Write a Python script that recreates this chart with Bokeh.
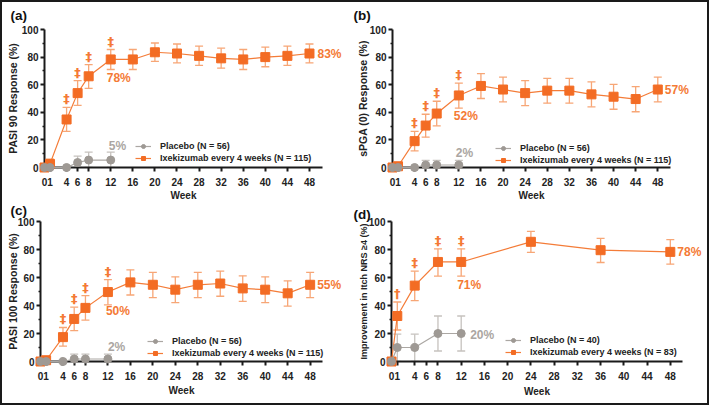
import math
from bokeh.plotting import figure
from bokeh.layouts import row, column
from bokeh.models import (ColumnDataSource, Whisker, TeeHead, FixedTicker, Legend,
                          LegendItem, Range1d)
from bokeh.embed import file_html
from bokeh.resources import INLINE

# ---------------- data ----------------
week_ticks = [0, 1, 4, 6, 8, 12, 16, 20, 24, 28, 32, 36, 40, 44, 48]
y_ticks = [0, 20, 40, 60, 80, 100]
y_minor = [10, 30, 50, 70, 90]

weeks_ixe = [0, 1, 4, 6, 8, 12, 16, 20, 24, 28, 32, 36, 40, 44, 48]
weeks_pbo = [0, 1, 4, 6, 8, 12]

# (a) PASI 90
ixe_a = [0, 2.6, 34.8, 53.9, 66.1, 78.3, 78.3, 83.5, 82.6, 80.9, 79.1, 78.3, 80.0, 80.9, 82.6]
ixe_a_hi = [0, 6.0, 43.5, 63.0, 74.5, 85.5, 85.5, 90.2, 89.5, 88.0, 86.5, 85.5, 87.3, 88.0, 89.5]
ixe_a_lo = [0, 0.0, 26.2, 45.0, 57.3, 71.0, 71.0, 76.9, 75.8, 74.0, 72.0, 71.0, 73.0, 74.0, 75.8]
pbo_a = [0, 0, 0, 3.6, 5.4, 5.4]
pbo_a_hi = [0, 0, 0, 8.3, 11.2, 11.2]
pbo_a_lo = [0, 0, 0, 0, 0, 0]

# (b) sPGA (0)
ixe_b = [0, 0.9, 19.1, 30.4, 39.1, 52.2, 59.1, 56.5, 53.9, 55.7, 55.7, 53.0, 51.3, 49.6, 56.5]
ixe_b_hi = [0, 2.5, 26.2, 38.6, 48.0, 61.2, 68.0, 65.5, 63.0, 64.6, 64.6, 62.0, 60.3, 58.6, 65.5]
ixe_b_lo = [0, 0.0, 12.0, 22.0, 30.2, 43.0, 50.0, 47.5, 44.8, 46.6, 46.6, 44.0, 42.2, 40.4, 47.5]
pbo_b = [0, 0, 0, 1.8, 1.8, 1.8]
pbo_b_hi = [0, 0, 0, 5.2, 5.2, 5.2]
pbo_b_lo = [0, 0, 0, 0, 0, 0]

# (c) PASI 100
ixe_c = [0, 0.9, 17.4, 30.4, 38.3, 49.6, 56.5, 54.8, 51.3, 54.8, 55.7, 52.2, 51.3, 48.7, 54.8]
ixe_c_hi = [0, 2.5, 24.3, 38.8, 47.0, 58.5, 65.5, 63.6, 60.5, 63.6, 64.6, 61.2, 60.5, 57.6, 63.6]
ixe_c_lo = [0, 0.0, 11.0, 22.0, 29.6, 40.5, 47.5, 45.6, 42.0, 45.6, 46.6, 43.0, 42.0, 39.6, 45.6]
pbo_c = [0, 0, 0, 1.8, 1.8, 1.8]
pbo_c_hi = [0, 0, 0, 5.2, 5.2, 5.2]
pbo_c_lo = [0, 0, 0, 0, 0, 0]

# (d) Itch NRS
weeks_ixe_d = [0, 1, 4, 8, 12, 24, 36, 48]
weeks_pbo_d = [0, 1, 4, 8, 12]
ixe_d = [0, 32.5, 54.2, 71.1, 71.1, 85.5, 79.5, 78.3]
ixe_d_hi = [0, 42.5, 64.5, 80.5, 80.5, 93.0, 88.0, 87.0]
ixe_d_lo = [0, 22.5, 43.5, 61.0, 61.0, 78.0, 70.7, 69.5]
pbo_d = [0, 10, 10, 20, 20]
pbo_d_hi = [0, 19.5, 19.5, 32.5, 32.5]
pbo_d_lo = [0, 0, 0, 7.5, 7.5]

sig_weeks_abc = [4, 6, 8, 12]
sig_syms_abc = ["\u2021", "\u2021", "\u2021", "\u2021"]
sig_weeks_d = [1, 4, 8, 12]
sig_syms_d = ["\u2020", "\u2021", "\u2021", "\u2021"]

titles = ["(a)", "(b)", "(c)", "(d)"]
x_title = "Week"
y_titles = ["PASI 90 Response (%)", "sPGA (0) Response (%)",
            "PASI 100 Response (%)", "Improvement in Itch NRS \u22654 (%)"]
pbo_labels = ["Placebo (N = 56)", "Placebo (N = 56)", "Placebo (N = 56)", "Placebo (N = 40)"]
ixe_labels = ["Ixekizumab every 4 weeks (N = 115)", "Ixekizumab every 4 weeks (N = 115)",
              "Ixekizumab every 4 weeks (N = 115)", "Ixekizumab every 4 weeks (N = 83)"]
end_labels = ["83%", "57%", "55%", "78%"]
wk12_labels = ["78%", "52%", "50%", "71%"]
pbo_end_labels = ["5%", "2%", "2%", "20%"]

# ---------------- style ----------------
ORANGE = "#F36C24"
ORANGE_LINE = "#F47C38"
ORANGE_ERR = "#F7A676"
ORANGE_TXT = "#F47A35"
GREY = "#9E9994"
GREY_LINE = "#ABA7A3"
GREY_ERR = "#C6C2BE"
GREY_TXT = "#ABA6A2"
INK = "#1a1a1a"
FONT = "Liberation Sans"

# per-panel geometry (pixels) and label offsets
LAYOUT = [
    dict(W=350, H=198, L=42, R=30, T=27, B=33, xend=50.36, tit=(-34, -14), yt_off=-32,
         wk_off=28, ytf="10.5px", leg=(91, 4),
         end_off=(8, 0), mid_off=(-4, 19), pbo_off=(-2, -14)),
    dict(W=355, H=198, L=40, R=37, T=27, B=32, xend=50.3, tit=(-39, -14), yt_off=-30,
         wk_off=28, ytf="10.5px", leg=(103, 2),
         end_off=(7, 0), mid_off=(-5, 21), pbo_off=(-3, -12)),
    dict(W=350, H=203, L=38, R=30, T=21, B=42, xend=50.2, tit=(-30, -11), yt_off=-28,
         wk_off=29, ytf="10.5px", leg=(107, 3),
         end_off=(7, 0), mid_off=(-2, 19), pbo_off=(0, -12)),
    dict(W=355, H=203, L=39, R=25, T=17, B=42, xend=50.1, tit=(-38, -7), yt_off=-28,
         wk_off=30, ytf="9px", leg=(114, 4),
         end_off=(7, 0), mid_off=(-4, 23), pbo_off=(9, 1)),
]


def txt(p, x, y, s, size, color, align="left", baseline="middle", dx=0, dy=0,
        angle=0.0, font=FONT):
    p.text(x, y, text=s, text_font_size=size, text_font_style="bold",
           text_color=color, text_align=align, text_baseline=baseline,
           x_offset=dx, y_offset=dy, angle=angle, text_font={"value": font},
           level="overlay")


def panel(i, wx, yx, yx_hi, yx_lo, wp, yp, yp_hi, yp_lo, sig_w, sig_s):
    cfg = LAYOUT[i]
    axis_px = cfg["W"] - cfg["L"] - cfg["R"]
    pxw = axis_px / cfg["xend"]
    R2 = 4
    x_end_frame = (cfg["W"] - cfg["L"] - R2) / pxw
    p = figure(width=cfg["W"], height=cfg["H"], x_range=Range1d(0, x_end_frame),
               y_range=Range1d(0, 100), output_backend="svg", toolbar_location=None,
               title=None,
               min_border_left=cfg["L"], min_border_right=R2,
               min_border_top=cfg["T"], min_border_bottom=cfg["B"])
    p.outline_line_color = None
    p.grid.visible = False
    p.background_fill_color = "white"
    p.border_fill_color = "white"

    p.xaxis.ticker = FixedTicker(ticks=week_ticks)
    p.yaxis.ticker = FixedTicker(ticks=y_ticks, minor_ticks=y_minor)
    p.xaxis.bounds = (0, cfg["xend"])
    for ax in (p.xaxis, p.yaxis):
        ax.axis_line_width = 2
        ax.axis_line_color = INK
        ax.major_tick_line_width = 2
        ax.major_tick_line_color = INK
        ax.major_tick_out = 4
        ax.major_tick_in = 0
        ax.minor_tick_out = 2
        ax.minor_tick_in = 0
        ax.minor_tick_line_width = 1.5
        ax.minor_tick_line_color = INK
        ax.major_label_text_font = FONT
        ax.major_label_text_font_style = "bold"
        ax.major_label_text_font_size = "10px"
        ax.major_label_text_color = "#222222"
    p.xaxis.major_label_standoff = 6
    p.yaxis.major_label_standoff = 2

    # panel letter and axis titles as text
    tx, ty = cfg["tit"]
    txt(p, [0], [100], [titles[i]], "13.5px", "#111111", dx=tx, dy=ty)
    txt(p, [cfg["xend"] / 2], [0], [x_title], "10px", "#222222", align="center",
        dy=cfg["wk_off"])
    txt(p, [0], [50], [y_titles[i]], cfg["ytf"], "#222222", align="center",
        dx=cfg["yt_off"], angle=math.pi / 2)

    # error bars
    def whisk(w, hi, lo, col):
        keep = [k for k in range(len(w)) if hi[k] > lo[k]]
        src = ColumnDataSource(dict(x=[w[k] for k in keep], hi=[hi[k] for k in keep],
                                    lo=[lo[k] for k in keep]))
        wh = Whisker(source=src, base="x", upper="hi", lower="lo", line_color=col,
                     line_width=1.3,
                     upper_head=TeeHead(size=8, line_color=col, line_width=1.3),
                     lower_head=TeeHead(size=8, line_color=col, line_width=1.3))
        p.add_layout(wh)

    whisk(wx, yx_hi, yx_lo, ORANGE_ERR)
    whisk(wp, yp_hi, yp_lo, GREY_ERR)

    li = p.line(wx, yx, line_color=ORANGE_LINE, line_width=1.2, level="overlay")
    si = p.scatter(wx, yx, marker="square", size=9, fill_color=ORANGE,
                   line_color=ORANGE, level="overlay")
    lp = p.line(wp, yp, line_color=GREY_LINE, line_width=1.2, level="overlay")
    sp = p.scatter(wp, yp, marker="circle", size=8, fill_color=GREY,
                   line_color=GREY, level="overlay")

    # significance markers above upper error bars
    sig_y = [yx_hi[wx.index(w)] for w in sig_w]
    txt(p, sig_w, sig_y, sig_s, "13px", ORANGE_TXT, align="center", baseline="bottom",
        dy=-1, font="DejaVu Sans")

    # percentage labels
    ex, ey = cfg["end_off"]
    txt(p, [wx[-1]], [yx[-1]], [end_labels[i]], "12px", ORANGE_TXT, dx=ex, dy=ey)
    k12 = wx.index(12)
    mx, my = cfg["mid_off"]
    txt(p, [wx[k12]], [yx[k12]], [wk12_labels[i]], "12px", ORANGE_TXT, dx=mx, dy=my)
    px, py = cfg["pbo_off"]
    txt(p, [wp[-1]], [yp[-1]], [pbo_end_labels[i]], "12px", GREY_TXT, dx=px, dy=py)

    leg = Legend(items=[LegendItem(label=pbo_labels[i], renderers=[lp, sp]),
                        LegendItem(label=ixe_labels[i], renderers=[li, si])],
                 location=cfg["leg"])
    leg.background_fill_alpha = 0
    leg.border_line_color = None
    leg.padding = 0
    leg.margin = 0
    leg.spacing = 2
    leg.glyph_width = 16
    leg.glyph_height = 10
    leg.label_height = 10
    leg.label_standoff = 9
    leg.label_text_font = FONT
    leg.label_text_font_style = "bold"
    leg.label_text_font_size = "9px"
    leg.label_text_color = "#222222"
    p.add_layout(leg)
    return p


pa = panel(0, weeks_ixe, ixe_a, ixe_a_hi, ixe_a_lo, weeks_pbo, pbo_a, pbo_a_hi, pbo_a_lo,
           sig_weeks_abc, sig_syms_abc)
pb = panel(1, weeks_ixe, ixe_b, ixe_b_hi, ixe_b_lo, weeks_pbo, pbo_b, pbo_b_hi, pbo_b_lo,
           sig_weeks_abc, sig_syms_abc)
pc = panel(2, weeks_ixe, ixe_c, ixe_c_hi, ixe_c_lo, weeks_pbo, pbo_c, pbo_c_hi, pbo_c_lo,
           sig_weeks_abc, sig_syms_abc)
pd_ = panel(3, weeks_ixe_d, ixe_d, ixe_d_hi, ixe_d_lo, weeks_pbo_d, pbo_d, pbo_d_hi, pbo_d_lo,
            sig_weeks_d, sig_syms_d)

layout = column(row(pa, pb, spacing=0), row(pc, pd_, spacing=0), spacing=0)
layout.styles = {"border": "2px solid #1a1a1a", "background-color": "white"}

open("out.html", "w").write(file_html(layout, INLINE))
